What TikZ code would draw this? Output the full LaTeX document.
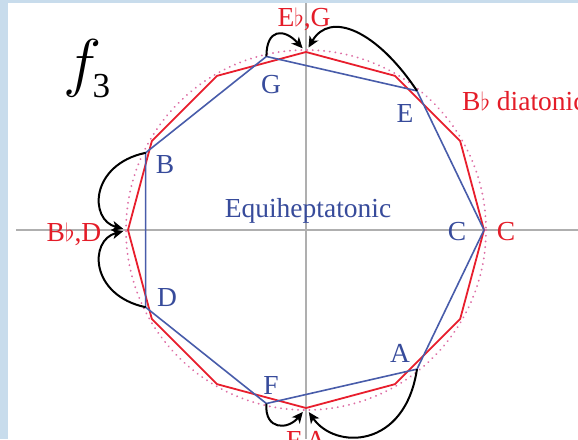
\documentclass[tikz,border=0pt]{standalone}
\usepackage{fontspec}
\setmainfont{Liberation Serif}
\usetikzlibrary{arrows.meta}
\definecolor{bgblue}{RGB}{200,220,236}
\definecolor{redline}{RGB}{232,30,45}
\definecolor{blueline}{RGB}{72,92,170}
\definecolor{bluetext}{RGB}{55,75,155}
\definecolor{redtext}{RGB}{228,28,40}
\definecolor{axisgray}{RGB}{175,175,175}
\definecolor{dotpink}{RGB}{222,110,165}
\begin{document}
\begin{tikzpicture}[x=1pt,y=-1pt,
  lbl/.style={font=\fontsize{27.5}{30}\selectfont, inner sep=0pt, anchor=base},
  bluelbl/.style={lbl, text=bluetext},
  redlbl/.style={lbl, text=redtext},
  axisline/.style={axisgray, line width=1.2pt},
  arr/.style={black, line width=2pt, shorten >=5pt, -{Stealth[length=11pt,width=10pt,inset=3pt]}},
]
\useasboundingbox (0,0) rectangle (578,439);
\fill[bgblue] (0,0) rectangle (578,439);
\fill[white] (8,3) rectangle (578,439);
\clip (0,0) rectangle (578,439);
\coordinate (O) at (306,230);
\begin{scope}[shift={(O)}]
  \foreach \i in {0,...,11} { \coordinate (r\i) at ({-\i*30}:178); }
  \foreach \i in {0,...,6} { \coordinate (b\i) at ({-\i*360/7}:178); }
\end{scope}
% axes
\coordinate (axL) at (16,230);
\coordinate (axR) at (578,230);
\coordinate (axT) at (306,3);
\coordinate (axB) at (306,439);
\draw[axisline] (axL) -- (axR);
\draw[axisline] (axT) -- (axB);
% dotted circle
\draw[dotpink, line width=2pt, dash pattern=on 0.1pt off 5.6pt, line cap=round] (O) circle (180);
% red 12-gon
\draw[redline, line width=1.8pt, line join=round] (r0) \foreach \i in {1,...,11}{ -- (r\i)} -- cycle;
% blue heptagon
\draw[blueline, line width=1.6pt, line join=round] (b0) \foreach \i in {1,...,6}{ -- (b\i)} -- cycle;
% labels
\node[redlbl] (lEbG) at (304,27) {E$\flat$,G};
\node[redlbl] (lBbD) at (74,241) {B$\flat$,D};
\node[redlbl] (lFA) at (306,449) {F,A};
\node[redlbl, anchor=base west] (ldia) at (462,110) {B$\flat$ diatonic};
\node[redlbl] (lCr) at (506,240) {C};
\node[bluelbl] (lCb) at (457,240) {C};
\node[bluelbl] (lG) at (271,93) {G};
\node[bluelbl] (lE) at (405,122) {E};
\node[bluelbl] (lB) at (165,173) {B};
\node[bluelbl] (lD) at (167,306) {D};
\node[bluelbl] (lF) at (271,394) {F};
\node[bluelbl] (lA) at (400,362) {A};
\node[bluelbl] (leq) at (308,217) {Equiheptatonic};
\node[inner sep=0pt, scale=2.6] (f3) at (87,69) {\fontsize{24.88}{28}\selectfont$f\kern-3.5pt$\raisebox{-5pt}{\fontsize{13.5}{15}\selectfont 3}};
% arrows
\draw[arr] (b2) .. controls +(0,-28) and +(-22,-24) .. (r3);
\draw[arr] (b1) .. controls +(-40,-60) and +(24,-42) .. (r3);
\draw[arr] (b3) .. controls +(-56,12) and +(-39,-10) .. (r6);
\draw[arr] (b4) .. controls +(-56,-12) and +(-39,10) .. (r6);
\draw[arr] (b5) .. controls +(-2,27) and +(-18,22) .. (r9);
\draw[arr] (b6) .. controls +(-12,80) and +(29,42) .. (r9);
\end{tikzpicture}
\end{document}
